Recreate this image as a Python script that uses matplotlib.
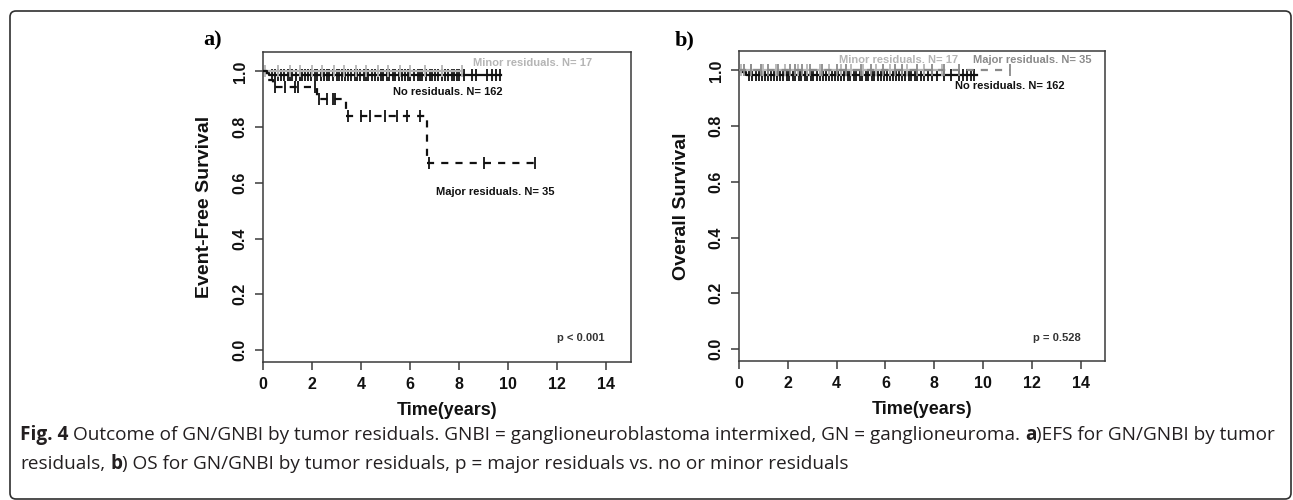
import numpy as np
import matplotlib
matplotlib.use("Agg")
import matplotlib.pyplot as plt
import matplotlib.patches as mpatches
from matplotlib.transforms import IdentityTransform

W, H = 1293, 500
DPI = 100

# ---------------- data ----------------
x_ticks = [0, 2, 4, 6, 8, 10, 12, 14]
y_ticks = [0.0, 0.2, 0.4, 0.6, 0.8, 1.0]

# Panel a: Event-free survival
efs_no_t = [0, 0.12, 0.25, 9.7]
efs_no_s = [1.0, 0.994, 0.986, 0.986]
efs_no_cens = [0.35, 0.5, 0.6, 0.75, 0.85, 1.0, 1.1, 1.2, 1.35, 1.5, 1.6, 1.7, 1.85,
               1.95, 2.1, 2.2, 2.35, 2.5, 2.6, 2.7, 2.85, 3.0, 3.1, 3.2, 3.35, 3.45,
               3.6, 3.75, 3.85, 3.95, 4.1, 4.2, 4.3, 4.45, 4.55, 4.7, 4.8, 4.9, 5.05,
               5.15, 5.3, 5.4, 5.55, 5.65, 5.8, 5.9, 6.0, 6.15, 6.3, 6.4, 6.5, 6.65,
               6.8, 6.9, 7.0, 7.15, 7.3, 7.4, 7.55, 7.7, 7.8, 7.9, 8.0, 8.2, 8.5,
               8.7, 9.15, 9.35, 9.5, 9.65]

efs_minor_t = [0, 8.1]
efs_minor_s = [1.0, 1.0]
efs_minor_cens = [0.1, 0.6, 1.1, 1.5, 2.0, 2.4, 2.9, 3.3, 3.8, 4.2, 4.7, 5.1, 5.6,
                  6.0, 6.6, 7.3, 8.1]

efs_major_t = [0, 0.15, 0.4, 2.2, 3.4, 6.7, 11.1]
efs_major_s = [1.0, 0.971, 0.943, 0.900, 0.840, 0.672, 0.672]
efs_major_cens = [0.49, 0.9, 1.3, 1.42, 2.1, 2.3, 2.6, 2.85, 2.93, 3.45, 4.0, 4.35,
                  4.96, 5.45, 5.85, 6.4, 6.75, 9.0, 11.1]

# Panel b: Overall survival
os_no_t = [0, 0.1, 0.3, 9.75]
os_no_s = [1.0, 0.994, 0.985, 0.985]
os_no_cens = [0.4, 0.55, 0.7, 0.8, 0.95, 1.05, 1.2, 1.3, 1.45, 1.55, 1.7, 1.8, 1.95,
              2.05, 2.2, 2.3, 2.45, 2.55, 2.7, 2.8, 2.95, 3.05, 3.2, 3.3, 3.45, 3.55,
              3.7, 3.8, 3.95, 4.05, 4.2, 4.3, 4.45, 4.55, 4.7, 4.8, 4.95, 5.05, 5.2,
              5.3, 5.45, 5.55, 5.7, 5.8, 5.95, 6.05, 6.2, 6.3, 6.45, 6.55, 6.7, 6.8,
              6.95, 7.05, 7.2, 7.3, 7.45, 7.6, 7.75, 7.9, 8.1, 8.4, 8.7, 9.0, 9.2,
              9.35, 9.5, 9.65]

os_minor_t = [0, 8.3]
os_minor_s = [1.0, 1.0]
os_minor_cens = [0.1, 0.5, 1.0, 1.5, 1.9, 2.4, 2.8, 3.3, 3.7, 4.2, 4.6, 5.1, 5.6,
                 6.2, 6.9, 7.6, 8.3]

os_major_t = [0, 11.1]
os_major_s = [1.0, 1.0]
os_major_cens = [0.2, 0.5, 0.9, 1.2, 1.6, 2.1, 2.3, 2.6, 2.9, 3.4, 4.0, 4.4, 5.0,
                 5.4, 5.9, 6.4, 6.7, 7.3, 7.9, 8.4, 9.0, 11.1]

labels_a = ["No residuals. N= 162", "Minor residuals. N= 17", "Major residuals. N= 35"]
labels_b = ["No residuals. N= 162", "Minor residuals. N= 17", "Major residuals. N= 35"]

# ---------------- style ----------------
SANS = ["Liberation Sans", "DejaVu Sans"]
BLACK = "#111111"
LGRAY = "#b5b5b5"
DGRAY = "#8a8a8a"
BOX = "#3a3a3a"

plt.rcParams["font.family"] = SANS

fig = plt.figure(figsize=(W / DPI, H / DPI), dpi=DPI)
fig.patch.set_facecolor("white")


def px_axes(left, top, right, bottom):
    return fig.add_axes([left / W, 1 - bottom / H, (right - left) / W, (bottom - top) / H])


def step_val(times, surv, t):
    idx = np.searchsorted(np.asarray(times), t, side="right") - 1
    return np.asarray(surv)[idx]


def km(ax, times, surv, cens, color, ls="-", zorder=3):
    line, = ax.step(times, surv, where="post", color=color, lw=1.6, zorder=zorder)
    if ls == "--":
        line.set_dashes((3.2, 3.2))
    cy = step_val(times, surv, np.asarray(cens))
    ax.plot(cens, cy, ls="none", marker="|", ms=8, mew=1.3, color=color, zorder=zorder)


def style_axes(ax, ylabel):
    ax.set_xlim(0, 15)
    ax.set_ylim(-0.043, 1.07)
    ax.set_xticks(x_ticks)
    ax.set_yticks(y_ticks)
    ax.set_xticklabels([str(v) for v in x_ticks])
    ax.set_yticklabels([f"{v:.1f}" for v in y_ticks], rotation=90, va="center")
    for sp in ax.spines.values():
        sp.set_color(BOX)
        sp.set_linewidth(1.1)
    ax.tick_params(direction="out", length=6, width=1.1, color=BOX,
                   labelsize=11.5, labelcolor=BLACK)
    ax.tick_params(axis="x", pad=5)
    ax.tick_params(axis="y", pad=5)
    for lab in ax.get_xticklabels() + ax.get_yticklabels():
        lab.set_fontweight("bold")
    ax.set_xlabel("Time(years)", fontsize=13, fontweight="bold", color=BLACK, va="center")
    ax.xaxis.set_label_coords(0.5, -0.155)
    ax.set_ylabel(ylabel, fontsize=14, fontweight="bold", color=BLACK, va="center")
    ax.yaxis.set_label_coords(-0.158, 0.5)


# ---------------- panel a ----------------
axa = px_axes(263, 52, 631, 362)
km(axa, efs_no_t, efs_no_s, efs_no_cens, BLACK, zorder=3)
km(axa, efs_minor_t, efs_minor_s, efs_minor_cens, LGRAY, zorder=4)
km(axa, efs_major_t, efs_major_s, efs_major_cens, BLACK, ls="--", zorder=5)
style_axes(axa, "Event-Free Survival")
axa.text(8.55, 1.032, labels_a[1], color=LGRAY, fontsize=8, fontweight="bold", va="center")
axa.text(5.3, 0.928, labels_a[0], color=BLACK, fontsize=8, fontweight="bold", va="center")
axa.text(7.07, 0.568, labels_a[2], color=BLACK, fontsize=8, fontweight="bold", va="center")
axa.text(12.0, 0.043, "p < 0.001", color="#333333", fontsize=8, fontweight="bold", va="center")

# ---------------- panel b ----------------
axb = px_axes(739, 51, 1105, 361)
km(axb, os_no_t, os_no_s, os_no_cens, BLACK, zorder=3)
km(axb, os_minor_t, os_minor_s, os_minor_cens, LGRAY, zorder=4)
km(axb, os_major_t, os_major_s, os_major_cens, DGRAY, ls="--", zorder=5)
style_axes(axb, "Overall Survival")
axb.text(4.1, 1.036, labels_b[1], color=LGRAY, fontsize=8, fontweight="bold", va="center")
axb.text(9.6, 1.036, labels_b[2], color=DGRAY, fontsize=8, fontweight="bold", va="center")
axb.text(8.85, 0.946, labels_b[0], color=BLACK, fontsize=8, fontweight="bold", va="center")
axb.text(12.05, 0.039, "p = 0.528", color="#333333", fontsize=8, fontweight="bold", va="center")

# panel letters
SERIF = ["Liberation Serif", "DejaVu Serif"]
fig.text(203 / W, 1 - 40 / H, "a)", family=SERIF, fontsize=16, fontweight="bold", va="center", ha="left")
fig.text(675 / W, 1 - 40 / H, "b)", family=SERIF, fontsize=16, fontweight="bold", va="center", ha="left")

# ---------------- caption ----------------
CAP_FONT = ["Open Sans", "DejaVu Sans"]
CAP_COLOR = "#231f20"
line1 = [("Fig. 4", True),
         (" Outcome of GN/GNBI by tumor residuals. GNBI = ganglioneuroblastoma intermixed, GN = ganglioneuroma. ", False),
         ("a", True),
         (")EFS for GN/GNBI by tumor", False)]
line2 = [("residuals, ", False),
         ("b", True),
         (") OS for GN/GNBI by tumor residuals, p = major residuals vs. no or minor residuals", False)]

renderer = fig.canvas.get_renderer()


def measure(txt, bold, size):
    t = fig.text(0, 0, txt, family=CAP_FONT, fontsize=size, fontweight="bold" if bold else "normal")
    w = t.get_window_extent(renderer).width
    t.remove()
    return w


def space_w(bold, size):
    return measure("x x", bold, size) - measure("xx", bold, size)


def line_width(segs, size):
    total = 0
    for txt, bold in segs:
        core = txt.strip(" ")
        lead = len(txt) - len(txt.lstrip(" "))
        trail = len(txt) - len(txt.rstrip(" "))
        sw = space_w(bold, size)
        total += lead * sw + measure(core, bold, size) + trail * sw
    return total


def draw_line(segs, x_px, y_px, size):
    x = x_px
    for txt, bold in segs:
        core = txt.strip(" ")
        lead = len(txt) - len(txt.lstrip(" "))
        trail = len(txt) - len(txt.rstrip(" "))
        sw = space_w(bold, size)
        x += lead * sw
        t = fig.text(x / W, 1 - y_px / H, core, family=CAP_FONT, fontsize=size,
                     fontweight="bold" if bold else "normal", color=CAP_COLOR,
                     va="center", ha="left")
        x += t.get_window_extent(renderer).width + trail * sw


base = 12.0
cap_size = base * 1255.0 / line_width(line1, base)
draw_line(line1, 20, 435, cap_size)
draw_line(line2, 20, 464, cap_size)

# ---------------- outer rounded frame ----------------
r = 6
frame = mpatches.FancyBboxPatch((10 + r, 1 + r), 1281 - 2 * r, 488 - 2 * r,
                                boxstyle=f"round,pad={r}", fill=False,
                                edgecolor="#2f2f2f", linewidth=1.2,
                                transform=IdentityTransform())
fig.add_artist(frame)

fig.savefig("out.png", dpi=DPI, facecolor="white")
